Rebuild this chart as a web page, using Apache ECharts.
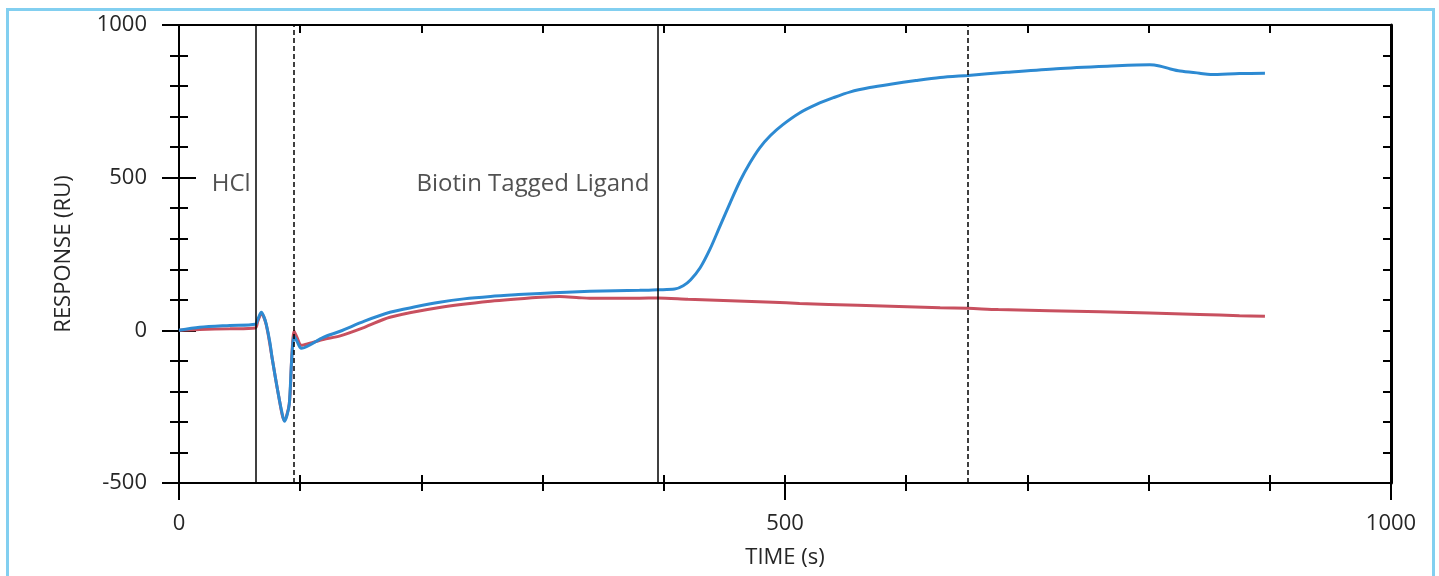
<!DOCTYPE html>
<html>
<head>
<meta charset="utf-8">
<script src="https://cdn.jsdelivr.net/npm/echarts@6/dist/echarts.min.js"></script>
<style>
html,body{margin:0;padding:0;background:#fff;}
#chart{width:1439px;height:576px;}
</style>
</head>
<body>
<div id="chart"></div>
<script>
// ---- data ----
const blueTime = [0,17,42,63,65,68,70,72,75,77,82,85,87,89,91,93,95,97,101,108,119,133,153,174,195,215,235,257,280,298,320,339,360,380,395,409,416,422,430,438,446,455,463,471,479,488,498,512,526,540,554,570,587,608,628,651,683,724,766,801,809,818,826,842,851,875,896];
const blueValue = [0,10,16,20,36,59,45,20,-40,-95,-210,-270,-298,-280,-242,-95,-20,-33,-59,-48,-23,-3,30,59,77,92,103,111,117,121,125,128,130,131,133,135,146,165,205,265,338,420,490,548,597,638,673,712,740,762,781,795,806,818,828,835,845,857,865,870,866,856,849,842,838,841,842];
const redTime = [0,17,42,63,65,68,72,77,82,87,91,93,95,97,101,108,119,133,153,174,215,257,298,314,330,339,380,395,420,490,512,560,628,651,676,760,842,875,896];
const redValue = [0,3,5,8,30,55,18,-95,-210,-295,-240,-90,-3,-20,-49,-42,-30,-18,10,43,75,95,108,111,107,105,105,106,102,92,88,82,74,72,68,61,52,48,46];
const solidMarkers = [63.3, 395.2];
const dashedMarkers = [94.9, 651];
const annotationLabels = ['HCl', 'Biotin Tagged Ligand'];
const annotationTimes = [27, 196];
const annotationValues = [478, 478];
const xTicks = {min: 0, max: 1000, interval: 500};
const yTicks = {min: -500, max: 1000, interval: 500};

const zip = (a, b) => a.map((v, i) => [v, b[i]]);
const FONT = "'Open Sans', 'Liberation Sans', Arial, sans-serif";
const TXT = '#262626';

const chart = echarts.init(document.getElementById('chart'), null, {renderer: 'canvas'});

const gridRect = {left: 179, right: 48, top: 25, bottom: 93};
const plainNum = v => String(v);

function xAx(gridIndex, position, inside, majorLen, minorLen, labels, extra) {
  return Object.assign({
    type: 'value', gridIndex, position,
    min: xTicks.min, max: xTicks.max, interval: xTicks.interval,
    axisLine: {show: true, onZero: false, lineStyle: {color: '#000', width: 2}},
    axisTick: {show: majorLen > 0, inside, length: majorLen, lineStyle: {color: '#000', width: 2}},
    minorTick: {show: true, splitNumber: 5, length: minorLen, lineStyle: {color: '#000', width: 2}},
    splitLine: {show: false},
    minorSplitLine: {show: false},
    axisLabel: {show: labels, margin: 30, fontSize: 22, color: TXT, fontFamily: FONT, formatter: plainNum}
  }, extra || {});
}
function yAx(gridIndex, position, inside, majorLen, minorLen, labels, extra, lw) {
  return Object.assign({
    type: 'value', gridIndex, position,
    min: yTicks.min, max: yTicks.max, interval: yTicks.interval,
    axisLine: {show: true, onZero: false, lineStyle: {color: '#000', width: lw || 2}},
    axisTick: {show: majorLen > 0, inside, length: majorLen, lineStyle: {color: '#000', width: 2}},
    minorTick: {show: true, splitNumber: 5, length: minorLen, lineStyle: {color: '#000', width: 2}},
    splitLine: {show: false},
    minorSplitLine: {show: false},
    axisLabel: {show: labels, margin: 32, fontSize: 22, color: TXT, fontFamily: FONT, formatter: plainNum}
  }, extra || {});
}

const option = {
  animation: false,
  backgroundColor: '#fff',
  graphic: [{
    type: 'rect', silent: true, z: -10,
    shape: {x: 7.5, y: 9.5, width: 1426, height: 700},
    style: {fill: 'none', stroke: '#82cff0', lineWidth: 3}
  }],
  grid: [
    Object.assign({}, gridRect, {containLabel: false}),
    Object.assign({}, gridRect, {containLabel: false})
  ],
  xAxis: [
    xAx(0, 'bottom', false, 17, 8, true, {
      name: 'TIME (s)', nameLocation: 'middle', nameGap: 64,
      nameTextStyle: {fontSize: 22, color: TXT, fontFamily: FONT}
    }),
    xAx(0, 'top', true, 8, 8, false),
    xAx(1, 'bottom', true, 8, 8, false)
  ],
  yAxis: [
    yAx(0, 'left', false, 17, 9, true, {
      name: 'RESPONSE (RU)', nameLocation: 'middle', nameGap: 104, nameRotate: 90,
      nameTextStyle: {fontSize: 22, color: TXT, fontFamily: FONT}
    }),
    yAx(0, 'right', true, 8, 8, false, null, 3),
    yAx(1, 'left', true, 17, 9, false)
  ],
  series: [
    {
      type: 'line', name: 'reference', xAxisIndex: 0, yAxisIndex: 0,
      data: zip(redTime, redValue), showSymbol: false, smooth: 0.3,
      lineStyle: {color: '#c8505f', width: 3}, z: 3,
      markLine: {
        silent: true, symbol: ['none', 'none'], label: {show: false},
        data: solidMarkers.map(v => ({xAxis: v, lineStyle: {color: '#000', width: 1.5, type: 'solid'}}))
          .concat(dashedMarkers.map(v => ({xAxis: v, lineStyle: {color: '#000', width: 1.5, type: [5, 3]}})))
      }
    },
    {
      type: 'line', name: 'active', xAxisIndex: 0, yAxisIndex: 0,
      data: zip(blueTime, blueValue), showSymbol: false, smooth: 0.3,
      lineStyle: {color: '#2d8ad2', width: 3}, z: 4
    },
    {
      type: 'scatter', xAxisIndex: 0, yAxisIndex: 0, symbolSize: 0, silent: true,
      data: annotationLabels.map((t, i) => [annotationTimes[i], annotationValues[i], t]),
      label: {
        show: true, position: 'right', distance: 0,
        formatter: p => p.value[2],
        fontSize: 24, color: TXT, fontFamily: FONT
      }
    }
  ]
};
chart.setOption(option);
</script>
</body>
</html>
